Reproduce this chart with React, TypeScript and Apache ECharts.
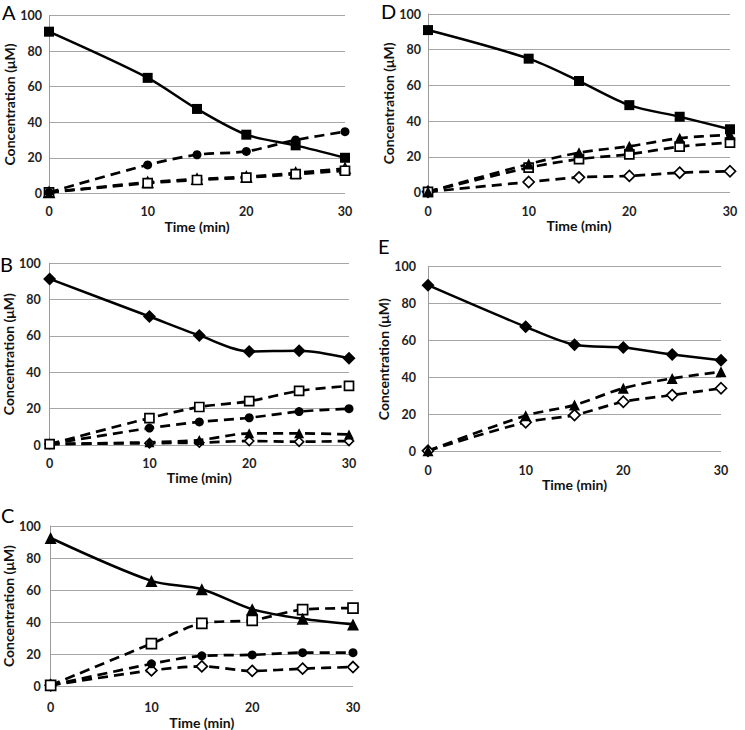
import React, { useEffect, useRef } from "react";
import * as echarts from "echarts";

// Time points (min)
const time = [0, 10, 15, 20, 25, 30];
const xTicks = [0, 10, 20, 30];
const yTicks = [0, 20, 40, 60, 80, 100];

// Panel A
const aSolidSquare = [91, 65, 47.5, 33, 27, 20];
const aCircle = [0.5, 16, 21.7, 23.6, 30, 34.7];
const aOpenSquare = [0.5, 5.7, 7.5, 8.8, 10.8, 12.7];
const aOpenTriangle = [0.5, 6.2, 8, 9.3, 11.5, 14];

// Panel D
const dSolidSquare = [91, 75, 62.5, 49, 42.5, 35.5];
const dTriangle = [0.5, 16, 22.4, 26, 30.5, 32.4];
const dOpenSquare = [0.5, 14, 18.8, 21.5, 25.8, 28];
const dOpenDiamond = [0.5, 6, 8.6, 9.4, 11.2, 12];

// Panel B
const bSolidDiamond = [91.4, 70.7, 60.3, 51.5, 51.9, 47.8];
const bOpenSquare = [0.5, 14.8, 20.9, 24.1, 29.8, 32.5];
const bCircle = [0.5, 9.3, 12.7, 15, 18.4, 20];
const bTriangle = [0.5, 1.5, 2.7, 6.4, 6.4, 5.8];
const bOpenDiamond = [0.5, 1, 1.3, 2.2, 1.8, 2.2];

// Panel E
const eSolidDiamond = [90, 67.5, 57.8, 56.3, 52.6, 49.4];
const eTriangle = [0.5, 19.5, 25.2, 34.3, 39.6, 43.2];
const eOpenDiamond = [0.5, 15.9, 19.8, 27, 30.6, 34.3];

// Panel C
const cSolidTriangle = [92.5, 65.7, 60.5, 48, 42, 38.5];
const cOpenSquare = [0.5, 26.5, 39.2, 41.1, 47.8, 48.7];
const cCircle = [0.5, 13.9, 18.9, 19.5, 20.9, 20.9];
const cOpenDiamond = [0.5, 9.8, 12.3, 9.5, 10.9, 11.9];

const panelLetters = ["A", "D", "B", "E", "C"];

const FONT = "Lato";

export default function App() {
  const ref = useRef<HTMLDivElement>(null);

  useEffect(() => {
    if (!ref.current) return;
    const chart = echarts.init(ref.current, undefined, { renderer: "svg" });

    const grids = [
      { left: 49, top: 15.7, width: 296, height: 177.6 }, // A
      { left: 428, top: 14, width: 302, height: 178.7 }, // D
      { left: 48.5, top: 263.3, width: 300.5, height: 181.7 }, // B
      { left: 428, top: 266.7, width: 293, height: 185 }, // E
      { left: 45, top: 526, width: 308, height: 167.3 }, // C
    ];
    const xLabelMargin = [12, 12, 12, 12, 15];
    const xNameGap = [20, 17, 21, 22, 20];
    const yNameGap = [28, 22, 33, 31, 29];
    const yLabelMargin = [7, 7, 9, 12, 10];

    const xAxes = grids.map((_, i) => ({
      type: "value",
      gridIndex: i,
      min: xTicks[0],
      max: xTicks[xTicks.length - 1],
      interval: 10,
      axisLine: { show: false },
      axisTick: { show: false },
      splitLine: { show: false },
      axisLabel: {
        margin: xLabelMargin[i],
        fontFamily: FONT,
        fontSize: 12.5,
        fontWeight: "bold",
        color: "#222",
      },
      name: "Time (min)",
      nameLocation: "middle",
      nameGap: xNameGap[i],
      nameTextStyle: {
        fontFamily: FONT,
        fontSize: 14,
        fontWeight: "bold",
        color: "#111",
      },
    }));

    const yAxes = grids.map((_, i) => ({
      type: "value",
      gridIndex: i,
      min: yTicks[0],
      max: yTicks[yTicks.length - 1],
      interval: 20,
      axisLine: { show: true, lineStyle: { color: "#9a9a9a", width: 1 } },
      axisTick: { show: false },
      splitLine: { show: true, lineStyle: { color: "#a6a6a6", width: 1 } },
      axisLabel: {
        margin: yLabelMargin[i],
        fontFamily: FONT,
        fontSize: 12.5,
        fontWeight: "bold",
        color: "#222",
      },
      name: "Concentration (\u03bcM)",
      nameLocation: "middle",
      nameRotate: 90,
      nameGap: yNameGap[i],
      nameTextStyle: {
        fontFamily: FONT,
        fontSize: 14,
        fontWeight: "bold",
        color: "#111",
      },
    }));

    const mk = (
      gi: number,
      values: number[],
      symbol: string,
      filled: boolean,
      solid: boolean,
      size: number
    ) => ({
      type: "line",
      xAxisIndex: gi,
      yAxisIndex: gi,
      data: time.map((t, k) => [t, values[k]]),
      smooth: 0.3,
      symbol,
      symbolSize: size,
      showSymbol: true,
      z: solid ? 4 : 3,
      lineStyle: {
        color: "#000",
        width: solid ? 2.5 : 2.7,
        type: solid ? "solid" : [10, 6],
      },
      itemStyle: {
        color: filled ? "#000" : "#fff",
        borderColor: "#000",
        borderWidth: filled ? 0 : 1.7,
        opacity: 1,
      },
    });

    const series = [
      // A
      mk(0, aOpenTriangle, "triangle", false, false, 10),
      mk(0, aOpenSquare, "rect", false, false, 9),
      mk(0, aCircle, "circle", true, false, 9),
      mk(0, aSolidSquare, "rect", true, true, 10),
      // D
      mk(1, dOpenDiamond, "diamond", false, false, 11),
      mk(1, dOpenSquare, "rect", false, false, 9),
      mk(1, dTriangle, "triangle", true, false, 11),
      mk(1, dSolidSquare, "rect", true, true, 10),
      // B
      mk(2, bOpenDiamond, "diamond", false, false, 9),
      mk(2, bTriangle, "triangle", true, false, 10),
      mk(2, bCircle, "circle", true, false, 9),
      mk(2, bOpenSquare, "rect", false, false, 9),
      mk(2, bSolidDiamond, "diamond", true, true, 13),
      // E
      mk(3, eOpenDiamond, "diamond", false, false, 11),
      mk(3, eTriangle, "triangle", true, false, 11),
      mk(3, eSolidDiamond, "diamond", true, true, 13),
      // C
      mk(4, cOpenDiamond, "diamond", false, false, 11),
      mk(4, cCircle, "circle", true, false, 9),
      mk(4, cOpenSquare, "rect", false, false, 10),
      mk(4, cSolidTriangle, "triangle", true, true, 12),
    ];

    const letterPos = [
      { x: 2, y: 2 },
      { x: 381, y: 1 },
      { x: 0, y: 254 },
      { x: 378, y: 236 },
      { x: 1, y: 505 },
    ];

    chart.setOption({
      animation: false,
      backgroundColor: "#fff",
      grid: grids,
      xAxis: xAxes,
      yAxis: yAxes,
      series,
      graphic: panelLetters.map((t, i) => ({
        type: "text",
        left: letterPos[i].x,
        top: letterPos[i].y,
        style: {
          text: t,
          fontFamily: FONT,
          fontSize: 20,
          fill: "#000",
        },
      })),
    });

    return () => chart.dispose();
  }, []);

  return (
    <div
      ref={ref}
      style={{ position: "absolute", left: 0, top: 0, width: 745, height: 730 }}
    />
  );
}
